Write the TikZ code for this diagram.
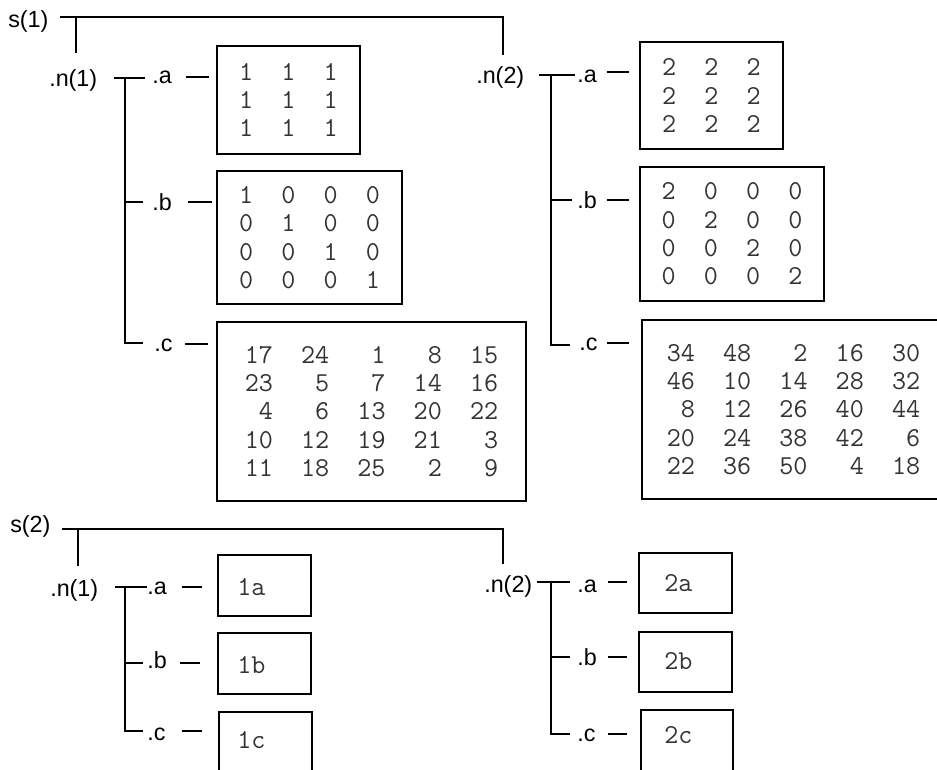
\documentclass[tikz,border=0pt]{standalone}
\usepackage{fontspec}
\setmainfont{Liberation Sans}
\newcommand\spc{\hphantom{0}}
\newcommand\rcell[2]{\makebox[#1\fontcharwd\font`0][r]{#2}}
\newcommand\rowc[5]{\rcell{2}{#1}\rcell{4}{#2}\rcell{4}{#3}\rcell{4}{#4}\rcell{4}{#5}}
\tikzset{
  lbl/.style={font=\fontsize{17.5}{20}\selectfont, inner sep=0pt, anchor=base west},
  box/.style={draw, line width=1.5pt, inner sep=0pt},
  mat/.style={font=\ttfamily\fontsize{20.5}{21.3}\selectfont, align=left, text=black!80},
  mtxt/.style={font=\ttfamily\fontsize{20.5}{21.3}\selectfont, text=black!80, inner sep=0pt, anchor=base west},
  tree/.style={line width=1.5pt},
}
\begin{document}
\begin{tikzpicture}[x=0.75pt,y=-0.75pt]
\useasboundingbox (0,0) rectangle (937,769);
\clip (0,0) rectangle (937,769);

% ---------------- s(1) ----------------
\node[lbl] (s1) at (8,27) {s(1)};
\node[lbl] (n11) at (49,86) {.n(1)};
\node[lbl] (a11) at (152,83) {.a};
\node[lbl] (b11) at (152,210) {.b};
\node[lbl] (c11) at (154,351) {.c};

\node[lbl] (n12) at (476,83) {.n(2)};
\node[lbl] (a12) at (577,82) {.a};
\node[lbl] (b12) at (577,208) {.b};
\node[lbl] (c12) at (579,350) {.c};

\node[box,mat,minimum width=107.25pt,minimum height=81pt] (A1) at (288.5,100)
  {1\spc\spc1\spc\spc1\\1\spc\spc1\spc\spc1\\1\spc\spc1\spc\spc1};
\node[box,mat,minimum width=138.75pt,minimum height=99.75pt] (B1) at (309.5,237.5)
  {1\spc\spc0\spc\spc0\spc\spc0\\0\spc\spc1\spc\spc0\spc\spc0\\0\spc\spc0\spc\spc1\spc\spc0\\0\spc\spc0\spc\spc0\spc\spc1};
\node[box,mat,minimum width=231.75pt,minimum height=134.25pt] (C1) at (371.5,411.5)
  {\rowc{17}{24}{1}{8}{15}\\\rowc{23}{5}{7}{14}{16}\\\rowc{4}{6}{13}{20}{22}\\\rowc{10}{12}{19}{21}{3}\\\rowc{11}{18}{25}{2}{9}};

\node[box,mat,minimum width=107.25pt,minimum height=80.25pt] (A2) at (711.5,95.5)
  {2\spc\spc2\spc\spc2\\2\spc\spc2\spc\spc2\\2\spc\spc2\spc\spc2};
\node[box,mat,minimum width=138pt,minimum height=100.5pt] (B2) at (732,234)
  {2\spc\spc0\spc\spc0\spc\spc0\\0\spc\spc2\spc\spc0\spc\spc0\\0\spc\spc0\spc\spc2\spc\spc0\\0\spc\spc0\spc\spc0\spc\spc2};
\node[box,mat,minimum width=227.25pt,minimum height=134.25pt] (C2) at (793.5,409.5)
  {\rowc{34}{48}{2}{16}{30}\\\rowc{46}{10}{14}{28}{32}\\\rowc{8}{12}{26}{40}{44}\\\rowc{20}{24}{38}{42}{6}\\\rowc{22}{36}{50}{4}{18}};

% tree lines s(1)
\coordinate (k1a) at (60,17);
\coordinate (k1b) at (503,17);
\coordinate (k1c) at (503,55);
\coordinate (k1d) at (76,17);
\coordinate (k1e) at (76,53);
\draw[tree] (k1a) -- (k1b) -- (k1c);
\draw[tree] (k1d) -- (k1e);

% n(1) branch
\coordinate (p1) at (114,78);
\coordinate (p2) at (145,78);
\coordinate (p3) at (125,78);
\coordinate (p4) at (125,343);
\coordinate (p5) at (143,343);
\coordinate (p6) at (125,202);
\coordinate (p7) at (143,202);
\draw[tree] (p1) -- (p2);
\draw[tree] (p3) -- (p4) -- (p5);
\draw[tree] (p6) -- (p7);
\coordinate (da1) at (186,77);  \coordinate (da2) at (209,77);
\coordinate (db1) at (188,202); \coordinate (db2) at (212,202);
\coordinate (dc1) at (185,344); \coordinate (dc2) at (208,344);
\draw[tree] (da1) -- (da2);
\draw[tree] (db1) -- (db2);
\draw[tree] (dc1) -- (dc2);

% n(2) branch
\coordinate (q1) at (539,75);
\coordinate (q2) at (575,75);
\coordinate (q3) at (551,75);
\coordinate (q4) at (551,345);
\coordinate (q5) at (570,345);
\coordinate (q6) at (551,200);
\coordinate (q7) at (572,200);
\draw[tree] (q1) -- (q2);
\draw[tree] (q3) -- (q4) -- (q5);
\draw[tree] (q6) -- (q7);
\coordinate (ea1) at (607,72);  \coordinate (ea2) at (629,72);
\coordinate (eb1) at (607,200); \coordinate (eb2) at (629,200);
\coordinate (ec1) at (607,343); \coordinate (ec2) at (629,343);
\draw[tree] (ea1) -- (ea2);
\draw[tree] (eb1) -- (eb2);
\draw[tree] (ec1) -- (ec2);

% ---------------- s(2) ----------------
\node[lbl] (s2) at (10,532) {s(2)};
\node[lbl] (n21) at (50,596) {.n(1)};
\node[lbl] (a21) at (147,594) {.a};
\node[lbl] (b21) at (147,668) {.b};
\node[lbl] (c21) at (147,740) {.c};

\node[lbl] (n22) at (484,592) {.n(2)};
\node[lbl] (a22) at (577,592) {.a};
\node[lbl] (b22) at (577,665) {.b};
\node[lbl] (c22) at (577,741) {.c};

\node[box,minimum width=69.75pt,minimum height=45.75pt] (X1a) at (264.5,585.5) {};
\node[box,minimum width=69.75pt,minimum height=45.75pt] (X1b) at (264.5,663.5) {};
\node[box,minimum width=69.75pt,minimum height=58.5pt] (X1c) at (265.5,751) {};
\node[mtxt] (tx1a) at (237,595) {1a};
\node[mtxt] (tx1b) at (237,673) {1b};
\node[mtxt] (tx1c) at (237,748) {1c};

\node[box,minimum width=69.75pt,minimum height=45pt] (X2a) at (685.5,583) {};
\node[box,minimum width=69.75pt,minimum height=45pt] (X2b) at (685.5,662) {};
\node[box,minimum width=69pt,minimum height=60pt] (X2c) at (687,750) {};
\node[mtxt] (tx2a) at (664,591) {2a};
\node[mtxt] (tx2b) at (664,669) {2b};
\node[mtxt] (tx2c) at (664,743) {2c};

% tree lines s(2)
\coordinate (u1) at (62,529);
\coordinate (u2) at (503,529);
\coordinate (u3) at (503,564);
\coordinate (u4) at (78,529);
\coordinate (u5) at (78,566);
\draw[tree] (u1) -- (u2) -- (u3);
\draw[tree] (u4) -- (u5);

\coordinate (r1) at (115,587);
\coordinate (r2) at (147,587);
\coordinate (r3) at (125,587);
\coordinate (r4) at (125,731);
\coordinate (r5) at (143,731);
\coordinate (r6) at (125,663);
\coordinate (r7) at (143,663);
\draw[tree] (r1) -- (r2);
\draw[tree] (r3) -- (r4) -- (r5);
\draw[tree] (r6) -- (r7);
\coordinate (fa1) at (182,587); \coordinate (fa2) at (202,587);
\coordinate (fb1) at (180,663); \coordinate (fb2) at (200,663);
\coordinate (fc1) at (182,731); \coordinate (fc2) at (202,731);
\draw[tree] (fa1) -- (fa2);
\draw[tree] (fb1) -- (fb2);
\draw[tree] (fc1) -- (fc2);

\coordinate (w1) at (537,582);
\coordinate (w2) at (570,582);
\coordinate (w3) at (551,582);
\coordinate (w4) at (551,734);
\coordinate (w5) at (570,734);
\coordinate (w6) at (551,657);
\coordinate (w7) at (570,657);
\draw[tree] (w1) -- (w2);
\draw[tree] (w3) -- (w4) -- (w5);
\draw[tree] (w6) -- (w7);
\coordinate (ga1) at (608,582); \coordinate (ga2) at (627,582);
\coordinate (gb1) at (608,657); \coordinate (gb2) at (627,657);
\coordinate (gc1) at (608,734); \coordinate (gc2) at (627,734);
\draw[tree] (ga1) -- (ga2);
\draw[tree] (gb1) -- (gb2);
\draw[tree] (gc1) -- (gc2);
\end{tikzpicture}
\end{document}
